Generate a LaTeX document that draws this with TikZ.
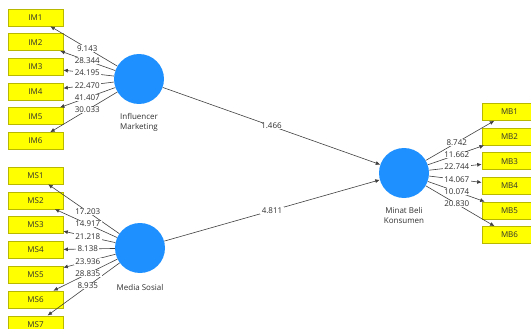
\documentclass[tikz,border=0pt]{standalone}
\usepackage{fontspec}
\setmainfont{Open Sans}
\usetikzlibrary{arrows.meta,calc}
\definecolor{PLSBlue}{HTML}{1E90FF}
\definecolor{PLSYellow}{HTML}{FFFF00}
\definecolor{PLSEdge}{HTML}{B8B800}
\definecolor{PLSLine}{HTML}{404040}
\definecolor{PLSText}{HTML}{303030}
\tikzset{
  construct/.style={circle,fill=PLSBlue,draw=none,minimum size=50pt,inner sep=0pt},
  indicator/.style={draw=PLSEdge,line width=0.6pt,fill=PLSYellow,minimum width=55pt,
                    minimum height=17pt,inner sep=0pt,text=PLSText,
                    font=\fontsize{8}{9}\selectfont},
  conlabel/.style={text=PLSText,font=\fontsize{8}{10}\selectfont,align=center},
  wlabel/.style={fill=white,inner xsep=1.4pt,inner ysep=0.3pt,text=PLSText,
                 font=\fontsize{8}{9}\selectfont},
  load/.style={-{Latex[length=4.5pt,width=4pt]},PLSLine,line width=0.6pt},
}
\begin{document}
\begin{tikzpicture}[x=1pt,y=-1pt]
    \useasboundingbox (0,0) rectangle (531,329);

    % constructs
    \node[construct] (im) at (139,79) {};
    \node[conlabel] (imlab) at (139,122) {Influencer\\Marketing};
    \node[construct] (ms) at (140,248) {};
    \node[conlabel] (mslab) at (140,287) {Media Sosial};
    \node[construct] (mb) at (404,173) {};
    \node[conlabel] (mblab) at (404,215.5) {Minat Beli\\Konsumen};

    % indicators
    \node[indicator] (IM1) at (35.5,17.5) {IM1};
    \node[indicator] (IM2) at (35.5,42.2) {IM2};
    \node[indicator] (IM3) at (35.5,66.9) {IM3};
    \node[indicator] (IM4) at (35.5,91.6) {IM4};
    \node[indicator] (IM5) at (35.5,116.3) {IM5};
    \node[indicator] (IM6) at (35.5,141) {IM6};

    \node[indicator] (MS1) at (35.5,175.5) {MS1};
    \node[indicator] (MS2) at (35.5,200.3) {MS2};
    \node[indicator] (MS3) at (35.5,225.1) {MS3};
    \node[indicator] (MS4) at (35.5,249.9) {MS4};
    \node[indicator] (MS5) at (35.5,274.7) {MS5};
    \node[indicator] (MS6) at (35.5,299.5) {MS6};
    \node[indicator] (MS7) at (35.5,324.3) {MS7};

    \node[indicator] (MB1) at (509.5,112) {MB1};
    \node[indicator] (MB2) at (509.5,136.6) {MB2};
    \node[indicator] (MB3) at (509.5,161.2) {MB3};
    \node[indicator] (MB4) at (509.5,185.8) {MB4};
    \node[indicator] (MB5) at (509.5,210.4) {MB5};
    \node[indicator] (MB6) at (509.5,235) {MB6};

    % outer loadings
    \draw[load] (im)--(IM1);
    \draw[load] (im)--(IM2);
    \draw[load] (im)--(IM3);
    \draw[load] (im)--(IM4);
    \draw[load] (im)--(IM5);
    \draw[load] (im)--(IM6);
    \draw[load] (ms)--(MS1);
    \draw[load] (ms)--(MS2);
    \draw[load] (ms)--(MS3);
    \draw[load] (ms)--(MS4);
    \draw[load] (ms)--(MS5);
    \draw[load] (ms)--(MS6);
    \draw[load] (ms)--(MS7);
    \draw[load] (mb)--(MB1);
    \draw[load] (mb)--(MB2);
    \draw[load] (mb)--(MB3);
    \draw[load] (mb)--(MB4);
    \draw[load] (mb)--(MB5);
    \draw[load] (mb)--(MB6);

    % inner paths
    \draw[load] (im)--(mb);
    \draw[load] (ms)--(mb);

    % t-values
    \node[wlabel] at ($(im)!.5!(IM1)$) {9.143};
    \node[wlabel] at ($(im)!.5!(IM2)$) {28.344};
    \node[wlabel] at ($(im)!.5!(IM3)$) {24.195};
    \node[wlabel] at ($(im)!.5!(IM4)$) {22.470};
    \node[wlabel] at ($(im)!.5!(IM5)$) {41.407};
    \node[wlabel] at ($(im)!.5!(IM6)$) {30.033};
    \node[wlabel] at ($(ms)!.5!(MS1)$) {17.203};
    \node[wlabel] at ($(ms)!.5!(MS2)$) {14.917};
    \node[wlabel] at ($(ms)!.5!(MS3)$) {21.218};
    \node[wlabel] at ($(ms)!.5!(MS4)$) {8.138};
    \node[wlabel] at ($(ms)!.5!(MS5)$) {23.936};
    \node[wlabel] at ($(ms)!.5!(MS6)$) {28.835};
    \node[wlabel] at ($(ms)!.5!(MS7)$) {8.935};
    \node[wlabel] at ($(mb)!.5!(MB1)$) {8.742};
    \node[wlabel] at ($(mb)!.5!(MB2)$) {11.662};
    \node[wlabel] at ($(mb)!.5!(MB3)$) {22.744};
    \node[wlabel] at ($(mb)!.5!(MB4)$) {14.067};
    \node[wlabel] at ($(mb)!.5!(MB5)$) {10.074};
    \node[wlabel] at ($(mb)!.5!(MB6)$) {20.830};
    \node[wlabel] at ($(im)!.5!(mb)$) {1.466};
    \node[wlabel] at ($(ms)!.5!(mb)$) {4.811};
\end{tikzpicture}
\end{document}
